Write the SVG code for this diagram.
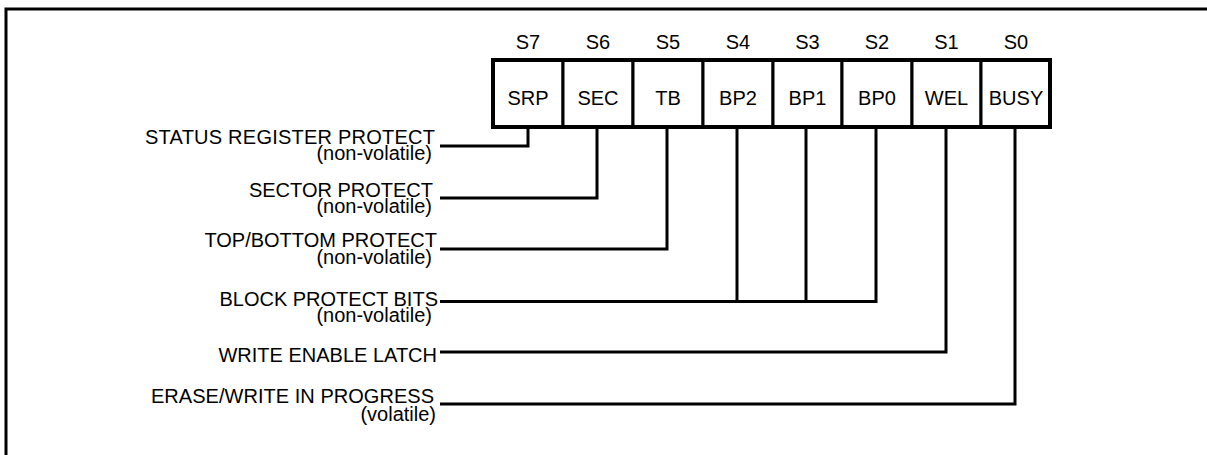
<svg xmlns="http://www.w3.org/2000/svg" width="1207" height="455" viewBox="0 0 1207 455">
<style>
  text { font-family: "Liberation Sans", Arial, sans-serif; font-size: 20px; fill: #000; }
  .c { text-anchor: middle; }
  .r { text-anchor: end; }
  .cell { fill: #fff; stroke: #000; stroke-width: 3; }
  .outline { fill: none; stroke: #000; stroke-width: 4; }
  .wire { fill: none; stroke: #000; stroke-width: 3; stroke-linejoin: miter; stroke-linecap: butt; }
  .frame { fill: none; stroke: #000; stroke-width: 3; }
</style>
<rect x="0" y="0" width="1207" height="455" fill="#fff"/>
<path class="frame" d="M6 455 V9 H1207"/>

<g id="cells">
  <g id="cell-s7"><rect class="cell" x="493" y="60" width="70" height="67"/><text class="c" x="528" y="49">S7</text><text class="c" x="528" y="105">SRP</text></g>
  <g id="cell-s6"><rect class="cell" x="563" y="60" width="70" height="67"/><text class="c" x="598" y="49">S6</text><text class="c" x="598" y="105">SEC</text></g>
  <g id="cell-s5"><rect class="cell" x="633" y="60" width="70" height="67"/><text class="c" x="668" y="49">S5</text><text class="c" x="668" y="105">TB</text></g>
  <g id="cell-s4"><rect class="cell" x="703" y="60" width="70" height="67"/><text class="c" x="738" y="49">S4</text><text class="c" x="738" y="105">BP2</text></g>
  <g id="cell-s3"><rect class="cell" x="773" y="60" width="69" height="67"/><text class="c" x="807.5" y="49">S3</text><text class="c" x="807.5" y="105">BP1</text></g>
  <g id="cell-s2"><rect class="cell" x="842" y="60" width="70" height="67"/><text class="c" x="877" y="49">S2</text><text class="c" x="877" y="105">BP0</text></g>
  <g id="cell-s1"><rect class="cell" x="912" y="60" width="69" height="67"/><text class="c" x="946.5" y="49">S1</text><text class="c" x="946.5" y="105">WEL</text></g>
  <g id="cell-s0"><rect class="cell" x="981" y="60" width="69" height="67"/><text class="c" x="1016" y="49">S0</text><text class="c" x="1016" y="105">BUSY</text></g>
  <rect class="outline" x="493" y="60" width="557" height="67"/>
</g>

<g id="connectors">
  <path class="wire" d="M440 146 H528 V127"/>
  <path class="wire" d="M440 198 H597 V127"/>
  <path class="wire" d="M440 249 H667 V127"/>
  <path class="wire" d="M440 301.5 H876 V127"/>
  <path class="wire" d="M737 127 V301.5"/>
  <path class="wire" d="M806 127 V301.5"/>
  <path class="wire" d="M440 352 H946 V127"/>
  <path class="wire" d="M440 404 H1015 V127"/>
</g>

<g id="label-srp"><text class="r" x="435" y="143.5" textLength="290">STATUS REGISTER PROTECT</text><text class="r" x="432" y="160">(non-volatile)</text></g>
<g id="label-sec"><text class="r" x="433" y="197">SECTOR PROTECT</text><text class="r" x="432" y="212.5">(non-volatile)</text></g>
<g id="label-tb"><text class="r" x="437" y="247">TOP/BOTTOM PROTECT</text><text class="r" x="432" y="264">(non-volatile)</text></g>
<g id="label-bp"><text class="r" x="438" y="306">BLOCK PROTECT BITS</text><text class="r" x="432" y="322">(non-volatile)</text></g>
<g id="label-wel"><text class="r" x="437" y="362">WRITE ENABLE LATCH</text></g>
<g id="label-busy"><text class="r" x="434" y="403" textLength="283">ERASE/WRITE IN PROGRESS</text><text class="r" x="436" y="421">(volatile)</text></g>
</svg>
